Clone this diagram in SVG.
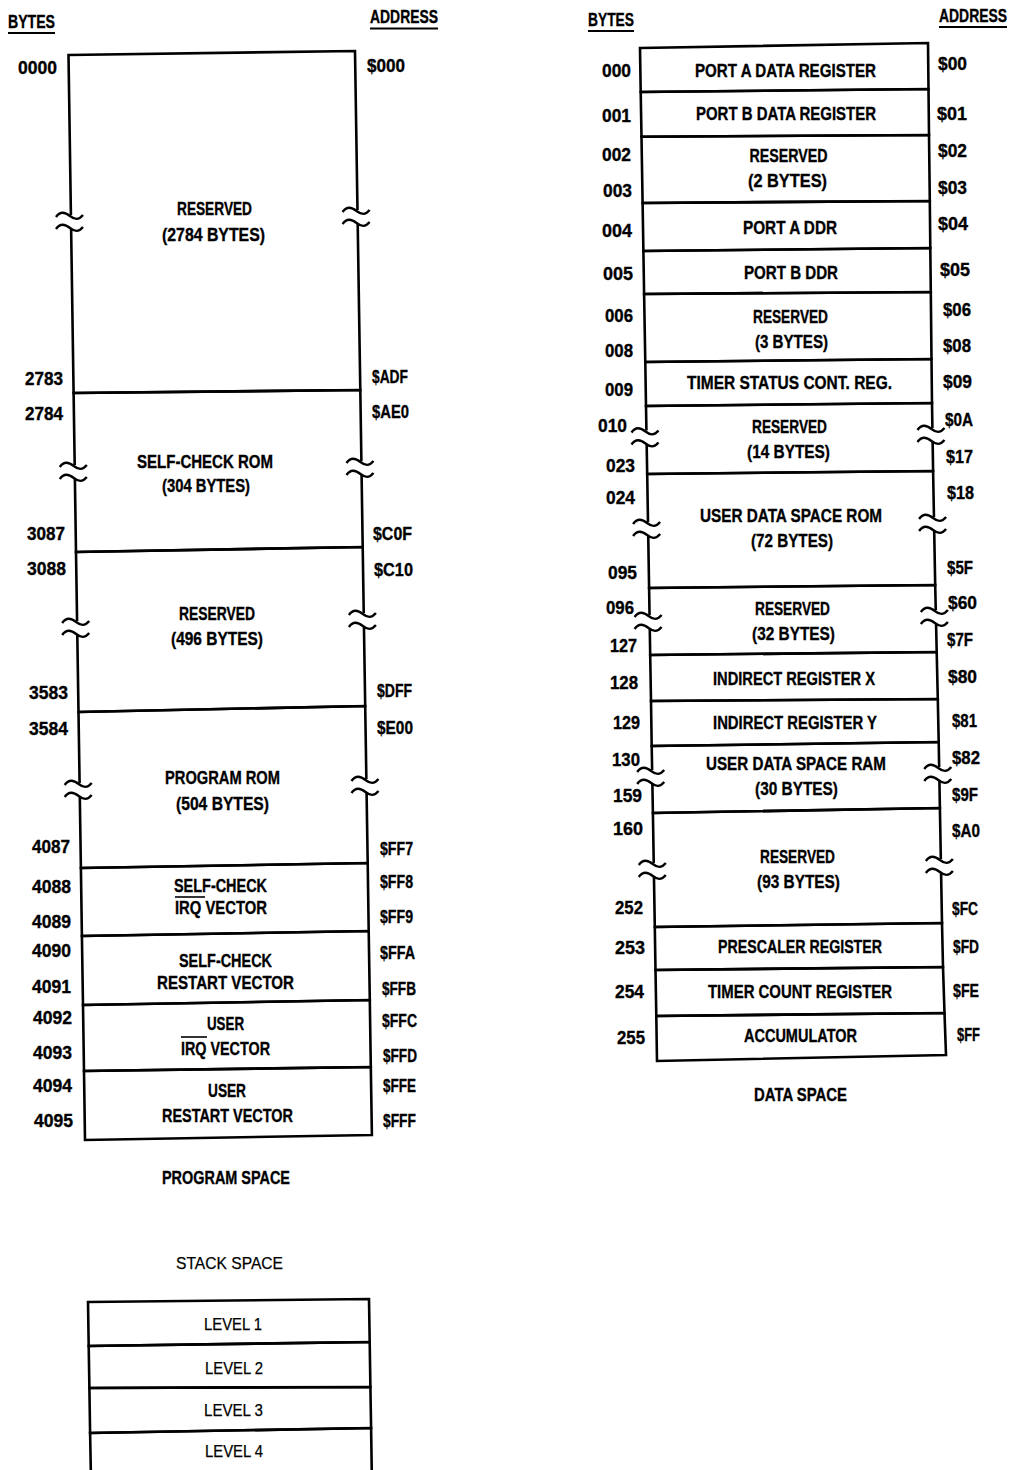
<svg xmlns="http://www.w3.org/2000/svg" xmlns:xlink="http://www.w3.org/1999/xlink" width="1013" height="1470" viewBox="0 0 1013 1470">
<style>
.bx{fill:none;stroke:#000;stroke-width:2.6;stroke-linejoin:miter}
.ul{stroke:#000;stroke-width:2}
.ov{stroke:#000;stroke-width:1.6}
text{font-family:"Liberation Sans Narrow","Arial Narrow","Liberation Sans",Arial,sans-serif;fill:#000}
.b{font-size:19px;font-weight:bold;stroke:#000;stroke-width:0.35}
.m{text-anchor:middle}
.e{text-anchor:end}
.r{font-size:17px;font-weight:normal;stroke:#000;stroke-width:0.25}
</style>
<defs>
<g id="brk">
<rect x="-3" y="-7" width="6" height="14" fill="#fff"/>
<path d="M-15,-5 C-11,-11 -6,-10 -1,-6 S8,-2 12,-7 M-15,7 C-11,1 -6,2 -1,6 S8,10 12,5" fill="none" stroke="#000" stroke-width="2.4"/>
</g>
</defs>
<rect width="1013" height="1470" fill="#fff"/>

<g id="headers">
<text class="b" x="8" y="28" textLength="47" lengthAdjust="spacingAndGlyphs">BYTES</text>
<line class="ul" x1="8" y1="33" x2="55" y2="33"/>
<text class="b" x="370" y="23" textLength="68" lengthAdjust="spacingAndGlyphs">ADDRESS</text>
<line class="ul" x1="370" y1="28.5" x2="438" y2="28.5"/>
<text class="b" x="588" y="26" textLength="46" lengthAdjust="spacingAndGlyphs">BYTES</text>
<line class="ul" x1="588" y1="31" x2="634" y2="31"/>
<text class="b e" x="1007" y="22" textLength="68" lengthAdjust="spacingAndGlyphs">ADDRESS</text>
<line class="ul" x1="939" y1="27" x2="1007" y2="27"/>
</g>

<!-- PROGRAM SPACE -->
<g id="prog-reserved-2784">
<path class="bx" d="M68.5,55 L355,51 L360.3,390 L73.6,393 Z"/>
<use xlink:href="#brk" x="71" y="222"/>
<use xlink:href="#brk" x="357.6" y="217"/>
<text class="b m" x="214.5" y="215" textLength="75" lengthAdjust="spacingAndGlyphs">RESERVED</text>
<text class="b m" x="213.5" y="241" textLength="103" lengthAdjust="spacingAndGlyphs">(2784 BYTES)</text>
</g>
<g id="prog-selfcheck-rom">
<path class="bx" d="M73.6,393 L360.3,390 L362.7,547 L76,552 Z"/>
<use xlink:href="#brk" x="74.8" y="472"/>
<use xlink:href="#brk" x="361.5" y="468"/>
<text class="b m" x="205" y="468" textLength="136" lengthAdjust="spacingAndGlyphs">SELF-CHECK ROM</text>
<text class="b m" x="206" y="492" textLength="88" lengthAdjust="spacingAndGlyphs">(304 BYTES)</text>
</g>
<g id="prog-reserved-496">
<path class="bx" d="M76,552 L362.7,547 L365.2,706 L78.5,712 Z"/>
<use xlink:href="#brk" x="77.2" y="628"/>
<use xlink:href="#brk" x="363.9" y="620"/>
<text class="b m" x="217" y="620" textLength="76" lengthAdjust="spacingAndGlyphs">RESERVED</text>
<text class="b m" x="217" y="645" textLength="92" lengthAdjust="spacingAndGlyphs">(496 BYTES)</text>
</g>
<g id="prog-program-rom">
<path class="bx" d="M78.5,712 L365.2,706 L367.7,863 L80.9,868 Z"/>
<use xlink:href="#brk" x="79.7" y="790"/>
<use xlink:href="#brk" x="366.5" y="786"/>
<text class="b m" x="222.5" y="784" textLength="115" lengthAdjust="spacingAndGlyphs">PROGRAM ROM</text>
<text class="b m" x="222.5" y="810" textLength="93" lengthAdjust="spacingAndGlyphs">(504 BYTES)</text>
</g>
<g id="prog-selfcheck-irq">
<path class="bx" d="M80.9,868 L367.7,863 L368.7,931 L81.9,936 Z"/>
<text class="b m" x="220.5" y="892" textLength="93" lengthAdjust="spacingAndGlyphs">SELF-CHECK</text>
<line class="ov" x1="175" y1="897" x2="205" y2="897"/>
<text class="b m" x="221" y="914" textLength="92" lengthAdjust="spacingAndGlyphs">IRQ VECTOR</text>
</g>
<g id="prog-selfcheck-restart">
<path class="bx" d="M81.9,936 L368.7,931 L369.8,1000 L83,1005 Z"/>
<text class="b m" x="225.5" y="967" textLength="93" lengthAdjust="spacingAndGlyphs">SELF-CHECK</text>
<text class="b m" x="225.5" y="989" textLength="137" lengthAdjust="spacingAndGlyphs">RESTART VECTOR</text>
</g>
<g id="prog-user-irq">
<path class="bx" d="M83,1005 L369.8,1000 L370.8,1067 L84,1071 Z"/>
<text class="b m" x="225.5" y="1030" textLength="37" lengthAdjust="spacingAndGlyphs">USER</text>
<line class="ov" x1="181" y1="1037" x2="207" y2="1037"/>
<text class="b m" x="225.5" y="1055" textLength="89" lengthAdjust="spacingAndGlyphs">IRQ VECTOR</text>
</g>
<g id="prog-user-restart">
<path class="bx" d="M84,1071 L370.8,1067 L371.9,1135 L85,1140 Z"/>
<text class="b m" x="227" y="1097" textLength="38" lengthAdjust="spacingAndGlyphs">USER</text>
<text class="b m" x="227.5" y="1122" textLength="131" lengthAdjust="spacingAndGlyphs">RESTART VECTOR</text>
</g>

<g id="prog-bytes">
<text class="b" x="18" y="74" textLength="39" lengthAdjust="spacingAndGlyphs">0000</text>
<text class="b" x="25" y="385" textLength="38" lengthAdjust="spacingAndGlyphs">2783</text>
<text class="b" x="25" y="420" textLength="38" lengthAdjust="spacingAndGlyphs">2784</text>
<text class="b" x="27" y="540" textLength="38" lengthAdjust="spacingAndGlyphs">3087</text>
<text class="b" x="27" y="575" textLength="39" lengthAdjust="spacingAndGlyphs">3088</text>
<text class="b" x="29" y="699" textLength="39" lengthAdjust="spacingAndGlyphs">3583</text>
<text class="b" x="29" y="735" textLength="39" lengthAdjust="spacingAndGlyphs">3584</text>
<text class="b" x="32" y="853" textLength="38" lengthAdjust="spacingAndGlyphs">4087</text>
<text class="b" x="32" y="893" textLength="39" lengthAdjust="spacingAndGlyphs">4088</text>
<text class="b" x="32" y="928" textLength="39" lengthAdjust="spacingAndGlyphs">4089</text>
<text class="b" x="32" y="957" textLength="39" lengthAdjust="spacingAndGlyphs">4090</text>
<text class="b" x="32" y="993" textLength="39" lengthAdjust="spacingAndGlyphs">4091</text>
<text class="b" x="33" y="1024" textLength="39" lengthAdjust="spacingAndGlyphs">4092</text>
<text class="b" x="33" y="1059" textLength="39" lengthAdjust="spacingAndGlyphs">4093</text>
<text class="b" x="33" y="1092" textLength="39" lengthAdjust="spacingAndGlyphs">4094</text>
<text class="b" x="34" y="1127" textLength="39" lengthAdjust="spacingAndGlyphs">4095</text>
</g>
<g id="prog-addresses">
<text class="b" x="367" y="72" textLength="38" lengthAdjust="spacingAndGlyphs">$000</text>
<text class="b" x="372" y="383" textLength="36" lengthAdjust="spacingAndGlyphs">$ADF</text>
<text class="b" x="372" y="418" textLength="37" lengthAdjust="spacingAndGlyphs">$AE0</text>
<text class="b" x="373" y="540" textLength="39" lengthAdjust="spacingAndGlyphs">$C0F</text>
<text class="b" x="374" y="576" textLength="39" lengthAdjust="spacingAndGlyphs">$C10</text>
<text class="b" x="377" y="697" textLength="35" lengthAdjust="spacingAndGlyphs">$DFF</text>
<text class="b" x="377" y="734" textLength="36" lengthAdjust="spacingAndGlyphs">$E00</text>
<text class="b" x="380" y="855" textLength="33" lengthAdjust="spacingAndGlyphs">$FF7</text>
<text class="b" x="380" y="888" textLength="33" lengthAdjust="spacingAndGlyphs">$FF8</text>
<text class="b" x="380" y="923" textLength="33" lengthAdjust="spacingAndGlyphs">$FF9</text>
<text class="b" x="380" y="959" textLength="35" lengthAdjust="spacingAndGlyphs">$FFA</text>
<text class="b" x="382" y="995" textLength="34" lengthAdjust="spacingAndGlyphs">$FFB</text>
<text class="b" x="382" y="1027" textLength="35" lengthAdjust="spacingAndGlyphs">$FFC</text>
<text class="b" x="383" y="1062" textLength="34" lengthAdjust="spacingAndGlyphs">$FFD</text>
<text class="b" x="383" y="1092" textLength="33" lengthAdjust="spacingAndGlyphs">$FFE</text>
<text class="b" x="383" y="1127" textLength="33" lengthAdjust="spacingAndGlyphs">$FFF</text>
</g>
<text class="b m" x="226" y="1184" textLength="128" lengthAdjust="spacingAndGlyphs">PROGRAM SPACE</text>

<!-- DATA SPACE -->
<g id="data-port-a">
<path class="bx" d="M640,48 L928,43 L928.5,89 L640.7,92 Z"/>
<text class="b m" x="785.5" y="77" textLength="181" lengthAdjust="spacingAndGlyphs">PORT A DATA REGISTER</text>
</g>
<g id="data-port-b">
<path class="bx" d="M640.7,92 L928.5,89 L929,135 L641.5,136.7 Z"/>
<text class="b m" x="786" y="120" textLength="180" lengthAdjust="spacingAndGlyphs">PORT B DATA REGISTER</text>
</g>
<g id="data-reserved-2">
<path class="bx" d="M641.5,136.7 L929,135 L929.8,201 L642.6,203 Z"/>
<text class="b m" x="788.5" y="162" textLength="78" lengthAdjust="spacingAndGlyphs">RESERVED</text>
<text class="b m" x="787.5" y="187" textLength="79" lengthAdjust="spacingAndGlyphs">(2 BYTES)</text>
</g>
<g id="data-port-a-ddr">
<path class="bx" d="M642.6,203 L929.8,201 L930.3,248 L643.4,251 Z"/>
<text class="b m" x="790" y="234" textLength="94" lengthAdjust="spacingAndGlyphs">PORT A DDR</text>
</g>
<g id="data-port-b-ddr">
<path class="bx" d="M643.4,251 L930.3,248 L930.8,292 L644.1,294 Z"/>
<text class="b m" x="791" y="279" textLength="94" lengthAdjust="spacingAndGlyphs">PORT B DDR</text>
</g>
<g id="data-reserved-3">
<path class="bx" d="M644.1,294 L930.8,292 L931.5,359 L645.3,362 Z"/>
<text class="b m" x="790.5" y="323" textLength="75" lengthAdjust="spacingAndGlyphs">RESERVED</text>
<text class="b m" x="791.5" y="348" textLength="73" lengthAdjust="spacingAndGlyphs">(3 BYTES)</text>
</g>
<g id="data-timer-status">
<path class="bx" d="M645.3,362 L931.5,359 L932,403 L646,406 Z"/>
<text class="b m" x="789.5" y="389" textLength="205" lengthAdjust="spacingAndGlyphs">TIMER STATUS CONT. REG.</text>
</g>
<g id="data-reserved-14">
<path class="bx" d="M646,406 L932,403 L933.1,471 L647.2,474 Z"/>
<use xlink:href="#brk" x="646.5" y="437.5"/>
<use xlink:href="#brk" x="932.5" y="435"/>
<text class="b m" x="789.5" y="433" textLength="75" lengthAdjust="spacingAndGlyphs">RESERVED</text>
<text class="b m" x="788.5" y="458" textLength="83" lengthAdjust="spacingAndGlyphs">(14 BYTES)</text>
</g>
<g id="data-user-rom">
<path class="bx" d="M647.2,474 L933.1,471 L935.2,585 L649.1,588 Z"/>
<use xlink:href="#brk" x="648.1" y="529"/>
<use xlink:href="#brk" x="934.1" y="524"/>
<text class="b m" x="791" y="522" textLength="182" lengthAdjust="spacingAndGlyphs">USER DATA SPACE ROM</text>
<text class="b m" x="792" y="547" textLength="82" lengthAdjust="spacingAndGlyphs">(72 BYTES)</text>
</g>
<g id="data-reserved-32">
<path class="bx" d="M649.1,588 L935.2,585 L936.7,652 L650.2,655 Z"/>
<use xlink:href="#brk" x="649.6" y="622"/>
<use xlink:href="#brk" x="935.9" y="617"/>
<text class="b m" x="792.5" y="615" textLength="75" lengthAdjust="spacingAndGlyphs">RESERVED</text>
<text class="b m" x="793.5" y="640" textLength="83" lengthAdjust="spacingAndGlyphs">(32 BYTES)</text>
</g>
<g id="data-indirect-x">
<path class="bx" d="M650.2,655 L936.7,652 L937.8,699 L651,701 Z"/>
<text class="b m" x="794" y="685" textLength="162" lengthAdjust="spacingAndGlyphs">INDIRECT REGISTER X</text>
</g>
<g id="data-indirect-y">
<path class="bx" d="M651,701 L937.8,699 L938.7,742 L651.7,746 Z"/>
<text class="b m" x="795" y="729" textLength="164" lengthAdjust="spacingAndGlyphs">INDIRECT REGISTER Y</text>
</g>
<g id="data-user-ram">
<path class="bx" d="M651.7,746 L938.7,742 L939.9,808 L652.9,813 Z"/>
<use xlink:href="#brk" x="652.2" y="777"/>
<use xlink:href="#brk" x="939.3" y="774"/>
<text class="b m" x="796" y="770" textLength="180" lengthAdjust="spacingAndGlyphs">USER DATA SPACE RAM</text>
<text class="b m" x="796.5" y="795" textLength="83" lengthAdjust="spacingAndGlyphs">(30 BYTES)</text>
</g>
<g id="data-reserved-93">
<path class="bx" d="M652.9,813 L939.9,808 L942,923 L654.8,927 Z"/>
<use xlink:href="#brk" x="653.8" y="870"/>
<use xlink:href="#brk" x="940.9" y="866"/>
<text class="b m" x="797.5" y="863" textLength="75" lengthAdjust="spacingAndGlyphs">RESERVED</text>
<text class="b m" x="798.5" y="888" textLength="83" lengthAdjust="spacingAndGlyphs">(93 BYTES)</text>
</g>
<g id="data-prescaler">
<path class="bx" d="M654.8,927 L942,923 L943,967 L655.5,970 Z"/>
<text class="b m" x="800" y="953" textLength="164" lengthAdjust="spacingAndGlyphs">PRESCALER REGISTER</text>
</g>
<g id="data-timer-count">
<path class="bx" d="M655.5,970 L943,967 L944.5,1013 L656.3,1016 Z"/>
<text class="b m" x="800" y="998" textLength="184" lengthAdjust="spacingAndGlyphs">TIMER COUNT REGISTER</text>
</g>
<g id="data-accumulator">
<path class="bx" d="M656.3,1016 L944.5,1013 L946,1055 L657,1061 Z"/>
<text class="b m" x="800.5" y="1042" textLength="113" lengthAdjust="spacingAndGlyphs">ACCUMULATOR</text>
</g>

<g id="data-bytes">
<text class="b" x="602" y="77" textLength="29" lengthAdjust="spacingAndGlyphs">000</text>
<text class="b" x="602" y="122" textLength="29" lengthAdjust="spacingAndGlyphs">001</text>
<text class="b" x="602" y="161" textLength="29" lengthAdjust="spacingAndGlyphs">002</text>
<text class="b" x="603" y="197" textLength="29" lengthAdjust="spacingAndGlyphs">003</text>
<text class="b" x="602" y="237" textLength="30" lengthAdjust="spacingAndGlyphs">004</text>
<text class="b" x="603" y="280" textLength="30" lengthAdjust="spacingAndGlyphs">005</text>
<text class="b" x="605" y="322" textLength="28" lengthAdjust="spacingAndGlyphs">006</text>
<text class="b" x="605" y="357" textLength="28" lengthAdjust="spacingAndGlyphs">008</text>
<text class="b" x="605" y="396" textLength="28" lengthAdjust="spacingAndGlyphs">009</text>
<text class="b" x="598" y="432" textLength="29" lengthAdjust="spacingAndGlyphs">010</text>
<text class="b" x="606" y="472" textLength="29" lengthAdjust="spacingAndGlyphs">023</text>
<text class="b" x="606" y="504" textLength="29" lengthAdjust="spacingAndGlyphs">024</text>
<text class="b" x="608" y="579" textLength="29" lengthAdjust="spacingAndGlyphs">095</text>
<text class="b" x="606" y="614" textLength="28" lengthAdjust="spacingAndGlyphs">096</text>
<text class="b" x="610" y="652" textLength="27" lengthAdjust="spacingAndGlyphs">127</text>
<text class="b" x="610" y="689" textLength="28" lengthAdjust="spacingAndGlyphs">128</text>
<text class="b" x="613" y="729" textLength="27" lengthAdjust="spacingAndGlyphs">129</text>
<text class="b" x="612" y="766" textLength="28" lengthAdjust="spacingAndGlyphs">130</text>
<text class="b" x="613" y="802" textLength="29" lengthAdjust="spacingAndGlyphs">159</text>
<text class="b" x="613" y="835" textLength="30" lengthAdjust="spacingAndGlyphs">160</text>
<text class="b" x="615" y="914" textLength="28" lengthAdjust="spacingAndGlyphs">252</text>
<text class="b" x="615" y="954" textLength="30" lengthAdjust="spacingAndGlyphs">253</text>
<text class="b" x="615" y="998" textLength="29" lengthAdjust="spacingAndGlyphs">254</text>
<text class="b" x="617" y="1044" textLength="28" lengthAdjust="spacingAndGlyphs">255</text>
</g>
<g id="data-addresses">
<text class="b" x="938" y="70" textLength="29" lengthAdjust="spacingAndGlyphs">$00</text>
<text class="b" x="937" y="120" textLength="30" lengthAdjust="spacingAndGlyphs">$01</text>
<text class="b" x="938" y="157" textLength="29" lengthAdjust="spacingAndGlyphs">$02</text>
<text class="b" x="938" y="194" textLength="29" lengthAdjust="spacingAndGlyphs">$03</text>
<text class="b" x="938" y="230" textLength="30" lengthAdjust="spacingAndGlyphs">$04</text>
<text class="b" x="940" y="276" textLength="30" lengthAdjust="spacingAndGlyphs">$05</text>
<text class="b" x="943" y="316" textLength="28" lengthAdjust="spacingAndGlyphs">$06</text>
<text class="b" x="943" y="352" textLength="28" lengthAdjust="spacingAndGlyphs">$08</text>
<text class="b" x="943" y="388" textLength="29" lengthAdjust="spacingAndGlyphs">$09</text>
<text class="b" x="945" y="426" textLength="28" lengthAdjust="spacingAndGlyphs">$0A</text>
<text class="b" x="946" y="463" textLength="27" lengthAdjust="spacingAndGlyphs">$17</text>
<text class="b" x="947" y="499" textLength="27" lengthAdjust="spacingAndGlyphs">$18</text>
<text class="b" x="947" y="574" textLength="26" lengthAdjust="spacingAndGlyphs">$5F</text>
<text class="b" x="948" y="609" textLength="29" lengthAdjust="spacingAndGlyphs">$60</text>
<text class="b" x="947" y="646" textLength="26" lengthAdjust="spacingAndGlyphs">$7F</text>
<text class="b" x="948" y="683" textLength="29" lengthAdjust="spacingAndGlyphs">$80</text>
<text class="b" x="952" y="727" textLength="25" lengthAdjust="spacingAndGlyphs">$81</text>
<text class="b" x="952" y="764" textLength="28" lengthAdjust="spacingAndGlyphs">$82</text>
<text class="b" x="952" y="801" textLength="26" lengthAdjust="spacingAndGlyphs">$9F</text>
<text class="b" x="952" y="837" textLength="28" lengthAdjust="spacingAndGlyphs">$A0</text>
<text class="b" x="952" y="915" textLength="26" lengthAdjust="spacingAndGlyphs">$FC</text>
<text class="b" x="953" y="953" textLength="26" lengthAdjust="spacingAndGlyphs">$FD</text>
<text class="b" x="953" y="997" textLength="26" lengthAdjust="spacingAndGlyphs">$FE</text>
<text class="b" x="957" y="1041" textLength="23" lengthAdjust="spacingAndGlyphs">$FF</text>
</g>
<text class="b m" x="800.5" y="1101" textLength="93" lengthAdjust="spacingAndGlyphs">DATA SPACE</text>

<!-- STACK SPACE -->
<text class="r m" x="229.5" y="1269" textLength="107" lengthAdjust="spacingAndGlyphs">STACK SPACE</text>
<g id="stack-level-1">
<path class="bx" d="M88,1302 L369,1299 L369.7,1342 L88.7,1346 Z"/>
<text class="r m" x="233" y="1330" textLength="58" lengthAdjust="spacingAndGlyphs">LEVEL 1</text>
</g>
<g id="stack-level-2">
<path class="bx" d="M88.7,1346 L369.7,1342 L370.4,1387 L89.4,1388 Z"/>
<text class="r m" x="234" y="1374" textLength="58" lengthAdjust="spacingAndGlyphs">LEVEL 2</text>
</g>
<g id="stack-level-3">
<path class="bx" d="M89.4,1388 L370.4,1387 L371.1,1428 L90.1,1433 Z"/>
<text class="r m" x="233.5" y="1416" textLength="59" lengthAdjust="spacingAndGlyphs">LEVEL 3</text>
</g>
<g id="stack-level-4">
<path class="bx" d="M90.9,1475 L90.1,1433 L371.1,1428 L371.8,1475"/>
<text class="r m" x="234" y="1457" textLength="58" lengthAdjust="spacingAndGlyphs">LEVEL 4</text>
</g>
</svg>
